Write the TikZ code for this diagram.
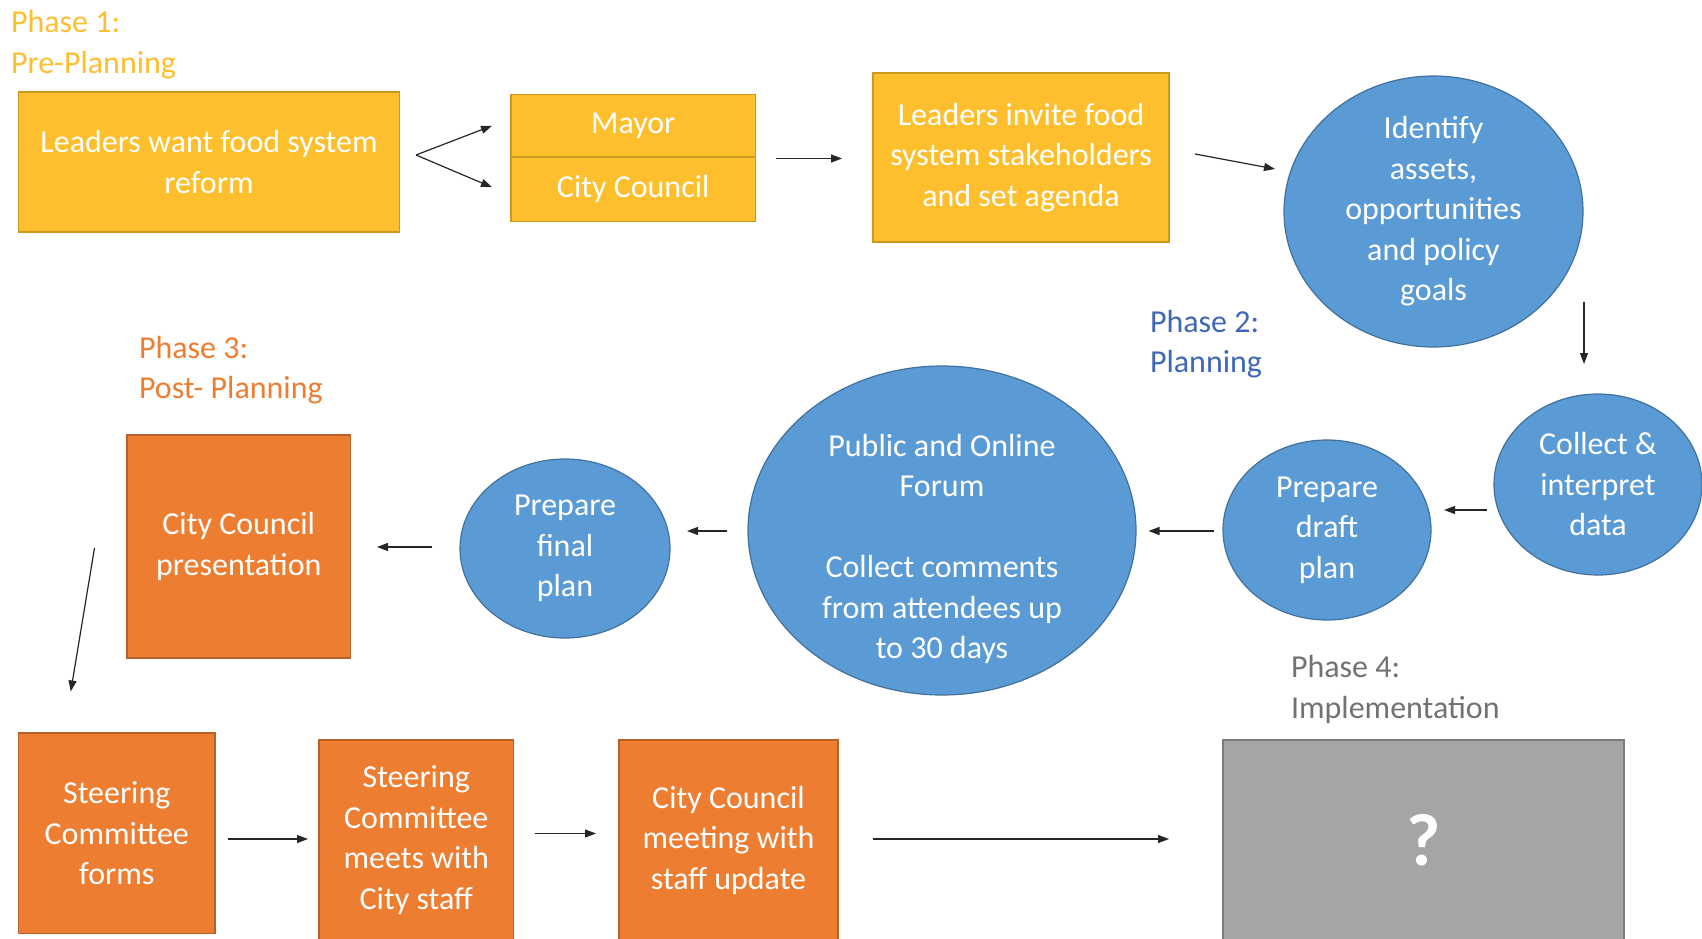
\documentclass[tikz,border=0pt]{standalone}
\usepackage{fontspec}
\setmainfont{Carlito}
\usetikzlibrary{shapes.geometric,arrows.meta,calc}
\definecolor{goldfill}{HTML}{FDBF2D}
\definecolor{goldline}{HTML}{C99A1E}
\definecolor{goldtext}{HTML}{FDBF2D}
\definecolor{bluefill}{HTML}{5B9BD5}
\definecolor{blueline}{HTML}{41719C}
\definecolor{bluetext}{HTML}{3F67B8}
\definecolor{orangefill}{HTML}{ED7D31}
\definecolor{orangeline}{HTML}{B8622A}
\definecolor{orangetext}{HTML}{ED7D31}
\definecolor{grayfill}{HTML}{A5A5A5}
\definecolor{grayline}{HTML}{7C7C7C}
\definecolor{graytext}{HTML}{727272}
\begin{document}
\begin{tikzpicture}[x=1pt,y=-1pt,
  every node/.style={inner sep=0pt, outer sep=0pt, align=center,
    font=\fontsize{32}{40.5}\selectfont},
  goldbox/.style={rectangle, draw=goldline, fill=goldfill, line width=1.2pt, text=white},
  orangebox/.style={rectangle, draw=orangeline, fill=orangefill, line width=1.2pt, text=white},
  graybox/.style={rectangle, draw=grayline, fill=grayfill, line width=1.2pt, text=white},
  blueoval/.style={ellipse, draw=blueline, fill=bluefill, line width=1.2pt, text=white},
  phaselabel/.style={anchor=base west, align=left},
  arr/.style={-{Triangle[length=11pt,width=8pt]}, line width=1.2pt, draw=black!85},
]
\useasboundingbox (0,0) rectangle (1702,939);
\fill[white] (0,0) rectangle (1702,939);

% Phase headings
\node[phaselabel, text=goldtext] (p1a) at (11,33) {Phase 1:};
\node[phaselabel, text=goldtext] (p1b) at (11,73.5) {Pre-Planning};
\node[phaselabel, text=bluetext] (p2a) at (1150,332) {Phase 2:};
\node[phaselabel, text=bluetext] (p2b) at (1150,372.5) {Planning};
\node[phaselabel, text=orangetext] (p3a) at (139,358) {Phase 3:};
\node[phaselabel, text=orangetext] (p3b) at (139,398.5) {Post- Planning};
\node[phaselabel, text=graytext] (p4a) at (1291,677.5) {Phase 4:};
\node[phaselabel, text=graytext] (p4b) at (1291,718) {Implementation};

% Phase 1: pre-planning boxes
\node[goldbox, minimum width=381pt, minimum height=140pt] (want) at (209,162)
  {Leaders want food system\\reform};
\node[goldbox, minimum width=244.5pt, minimum height=62.5pt] (mayor) at (633.25,125.75) {Mayor};
\node[goldbox, minimum width=244.5pt, minimum height=64.5pt] (council) at (633.25,189.25) {City Council};
\node[goldbox, minimum width=296pt, minimum height=169pt] (invite) at (1021,157.5)
  {Leaders invite food\\system stakeholders\\and set agenda};

% Phase 2: planning ovals
\node[blueoval, minimum width=299pt, minimum height=271pt] (identify) at (1433.5,211.5)
  {Identify\\assets,\\opportunities\\and policy\\goals};
\node[blueoval, minimum width=208pt, minimum height=181pt] (collect) at (1598,484.5)
  {Collect \&\\interpret\\data};
\node[blueoval, minimum width=208pt, minimum height=180pt] (draft) at (1327,530)
  {Prepare\\draft\\plan};
\node[blueoval, minimum width=388pt, minimum height=329pt] (public) at (942,530.5) {};
\node[text=white, yshift=-18.5pt] (publictext) at (public.center)
  {Public and Online\\Forum\\[40.5pt]Collect comments\\from attendees up\\to 30 days};
\node[blueoval, minimum width=210pt, minimum height=179pt] (final) at (565,548.5)
  {Prepare\\final\\plan};

% Phase 3: post-planning boxes
\node[orangebox, minimum width=223.5pt, minimum height=223pt] (present) at (238.75,546.5)
  {City Council\\presentation};
\node[orangebox, minimum width=196.5pt, minimum height=200.5pt] (forms) at (116.75,833.25)
  {Steering\\Committee\\forms};
\node[orangebox, minimum width=194.5pt, minimum height=200pt] (meets) at (416.25,840)
  {Steering\\Committee\\meets with\\City staff};
\node[orangebox, minimum width=219pt, minimum height=200pt] (update) at (728.5,840)
  {City Council\\meeting with\\staff update};

% Phase 4: implementation
\node[graybox, minimum width=401pt, minimum height=200pt,
  font=\fontsize{74}{80}\selectfont\bfseries] (impl) at (1423.5,840) {?};

% Connectors
\draw[arr] ($(want.east)+(16.5,-7)$) -- ($(mayor.west)+(-19,0)$);
\draw[arr] ($(want.east)+(16.5,-7)$) -- ($(council.west)+(-19,-2)$);
\draw[arr] ($(mayor.south east)+(20.5,1.5)$) -- ($(invite.west)+(-31,1)$);
\draw[arr] ($(invite.east)+(26,-3.5)$) -- ($(identify.west)+(-9,-42.5)$);
\draw[arr] ($(identify.east)+(1,90.5)$) -- ($(collect.north)+(-14,-30)$);
\draw[arr] ($(collect.west)+(-7,25.5)$) -- ($(draft.east)+(13,-20)$);
\draw[arr] ($(draft.west)+(-9.5,1)$) -- ($(public.east)+(12.5,0.5)$);
\draw[arr] ($(public.west)+(-21,0.5)$) -- ($(final.east)+(17,-17.5)$);
\draw[arr] ($(final.west)+(-28,-1.5)$) -- ($(present.east)+(26.5,0.5)$);
\draw[arr] ($(present.west)+(-32.5,1.5)$) -- ($(forms.north)+(-46,-41.5)$);
\draw[arr] ($(forms.east)+(13,5.75)$) -- ($(meets.west)+(-11,-1)$);
\draw[arr] ($(meets.east)+(21.5,-6.5)$) -- ($(update.west)+(-23,-6.5)$);
\draw[arr] ($(update.east)+(35,-1)$) -- ($(impl.west)+(-54,-1)$);
\end{tikzpicture}
\end{document}
